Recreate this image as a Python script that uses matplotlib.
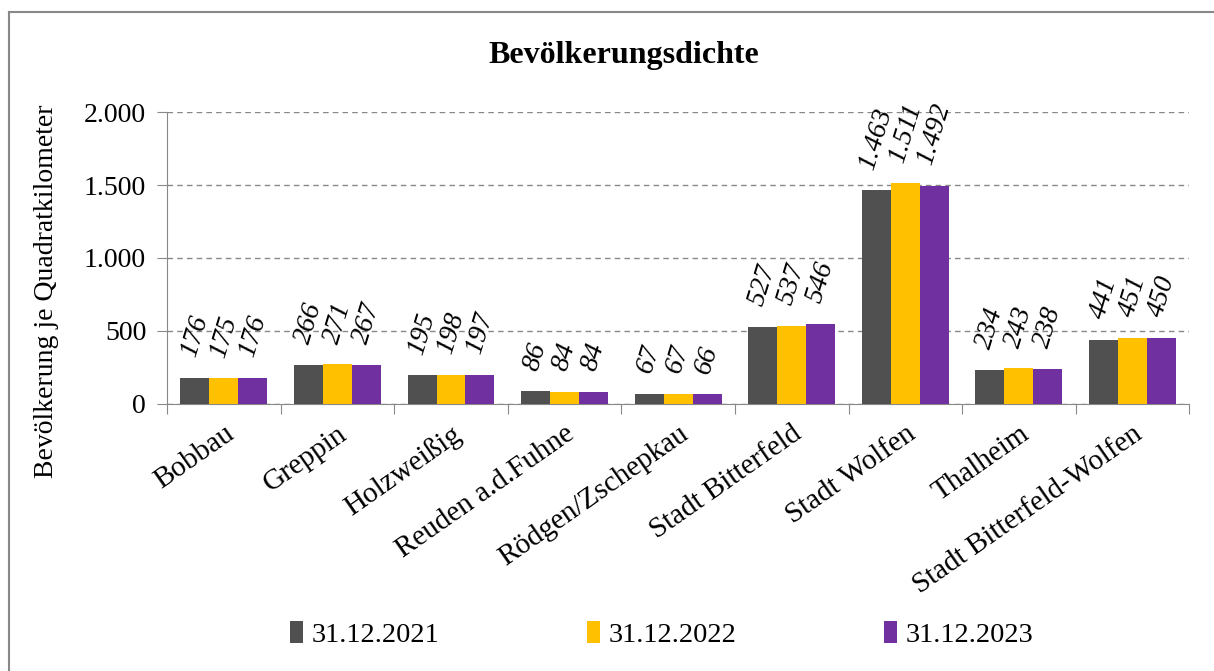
import numpy as np
import matplotlib.pyplot as plt
from matplotlib.lines import Line2D

plt.rcParams['font.family'] = ['Liberation Serif', 'DejaVu Serif']

# data
orte = ["Bobbau", "Greppin", "Holzweißig", "Reuden a.d.Fuhne", "Rödgen/Zschepkau",
        "Stadt Bitterfeld", "Stadt Wolfen", "Thalheim", "Stadt Bitterfeld-Wolfen"]
jahre = ["31.12.2021", "31.12.2022", "31.12.2023"]
dichte_2021 = [176, 266, 195, 86, 67, 527, 1463, 234, 441]
dichte_2022 = [175, 271, 198, 84, 67, 537, 1511, 243, 451]
dichte_2023 = [176, 267, 197, 84, 66, 546, 1492, 238, 450]
farben = ["#505050", "#FFC000", "#7030A0"]

def fmt(v):
    return f"{v:,}".replace(",", ".")

fig = plt.figure(figsize=(12.14, 6.71), dpi=100)
ax = fig.add_axes([0.1376, 0.398, 0.842, 0.435])

x = np.arange(len(orte))
w = 0.255
serien = [dichte_2021, dichte_2022, dichte_2023]
for i, (werte, farbe, lab) in enumerate(zip(serien, farben, jahre)):
    pos = x + (i - 1) * w
    ax.bar(pos, werte, width=w, color=farbe, label=lab, zorder=3)
    for px, v in zip(pos, werte):
        ax.annotate(fmt(v), (px, v), xytext=(0, 13), textcoords="offset points",
                    ha="center", va="bottom", rotation=73, fontsize=20,
                    style="italic")

ax.set_xlim(-0.5, len(orte) - 0.5)
ax.set_ylim(0, 2000)
ax.set_yticks([0, 500, 1000, 1500, 2000])
ax.set_yticklabels([fmt(v) for v in [0, 500, 1000, 1500, 2000]], fontsize=20)
ax.yaxis.grid(True, linestyle=(0, (4, 3)), color="#888888", linewidth=1, zorder=0)

# tick marks between categories, labels centred under them
ax.set_xticks(np.arange(len(orte) + 1) - 0.5)
ax.set_xticklabels([])
ax.set_xticks(x, minor=True)
ax.set_xticklabels(orte, minor=True, rotation=35, ha="right",
                   rotation_mode="anchor", fontsize=21)
ax.tick_params(axis="x", which="minor", length=0, pad=12)
ax.tick_params(axis="x", which="major", length=7, color="#888888")
ax.tick_params(axis="y", length=7, color="#888888", pad=8)

for s in ["top", "right"]:
    ax.spines[s].set_visible(False)
for s in ["left", "bottom"]:
    ax.spines[s].set_color("#888888")

fig.text(0.514, 0.918, "Bevölkerungsdichte", ha="center", va="center",
         fontsize=23, fontweight="bold")
fig.text(0.038, 0.566, "Bevölkerung je Quadratkilometer", ha="center",
         va="center", rotation=90, fontsize=20)

fig.legend(loc="center", bbox_to_anchor=(0.545, 0.054), ncol=3, frameon=False,
           fontsize=20.5, handlelength=0.45, handleheight=0.8, handletextpad=0.3,
           columnspacing=5.2)

# outer frame (only left/top visible in the original)
fig.add_artist(Line2D([9 / 1214, 9 / 1214], [0, 1 - 12 / 671],
                      transform=fig.transFigure, color="#888888", lw=1.5))
fig.add_artist(Line2D([9 / 1214, 1], [1 - 12 / 671, 1 - 12 / 671],
                      transform=fig.transFigure, color="#888888", lw=1.5))

fig.savefig("out.png", dpi=100)
